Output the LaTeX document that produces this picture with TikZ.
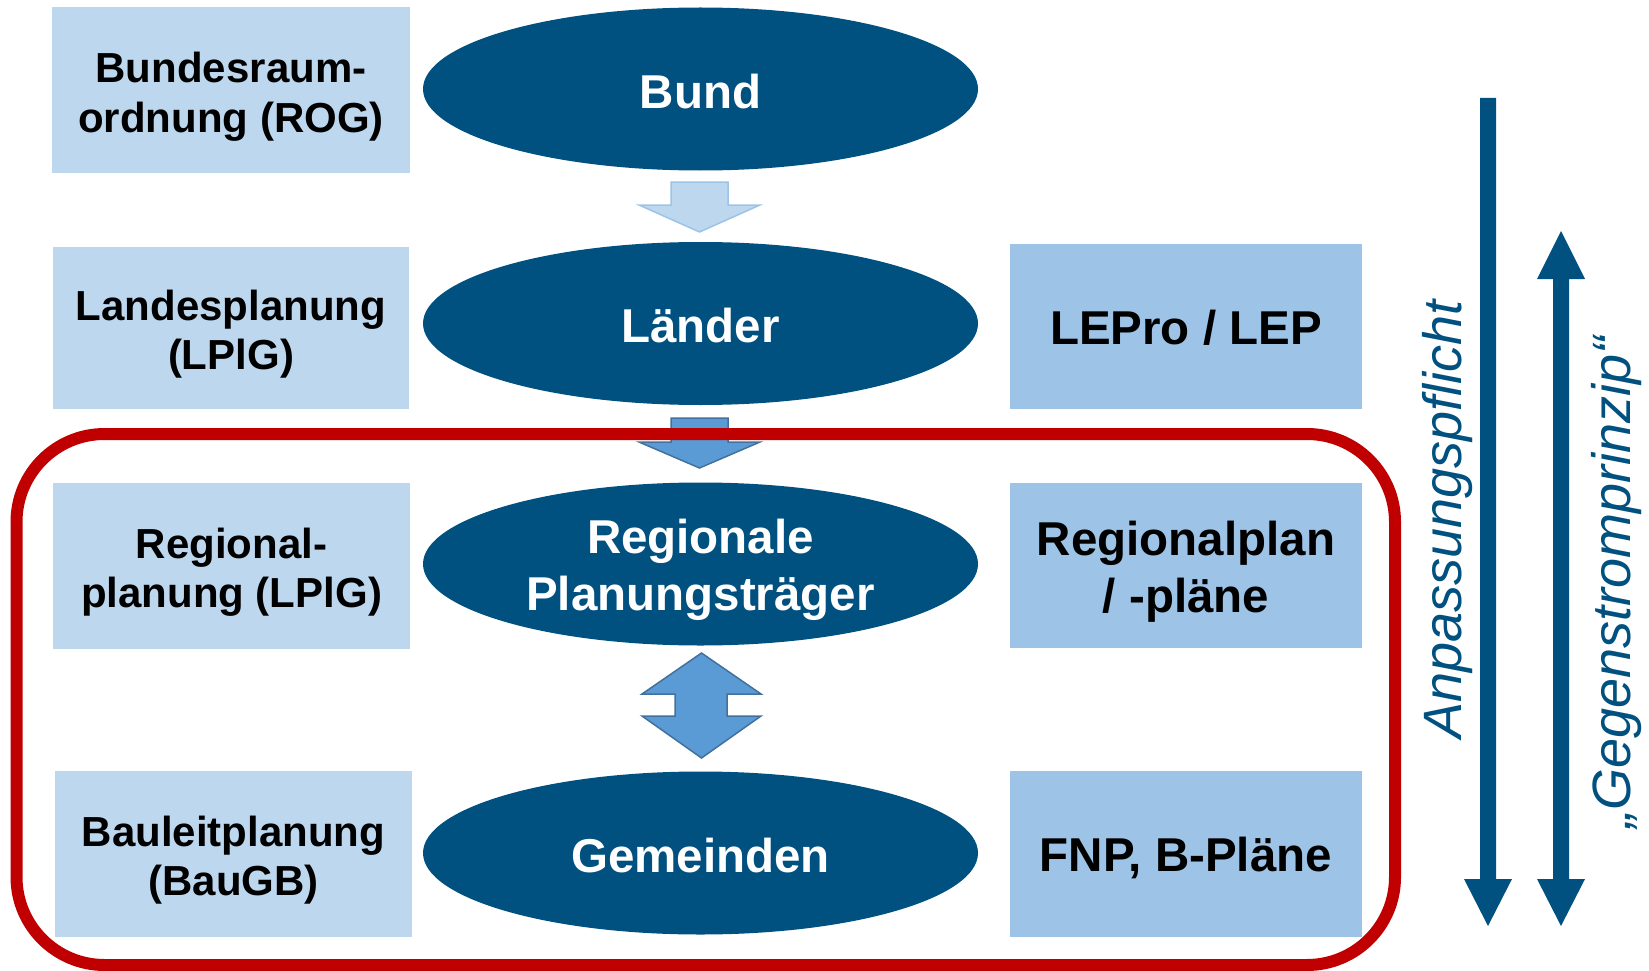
\documentclass[tikz,border=0pt]{standalone}
\usepackage{fontspec}
\setmainfont{Liberation Sans}
\usetikzlibrary{shapes.geometric}
\definecolor{dblue}{RGB}{0,80,128}
\definecolor{lboxc}{HTML}{BDD7EE}
\definecolor{rboxc}{HTML}{9DC3E6}
\definecolor{mblue}{HTML}{5B9BD5}
\definecolor{mborder}{HTML}{41719C}
\definecolor{dred}{HTML}{C00000}
\newcommand\downblock[5]{% style, cx, top, headbase, tip
  \draw[#1] (#2-28.5,#3) -- (#2+28.5,#3) -- (#2+28.5,#4) -- (#2+60.5,#4) -- (#2,#5)
    -- (#2-60.5,#4) -- (#2-28.5,#4) -- cycle;}
\begin{document}
\begin{tikzpicture}[x=1pt,y=-1pt,
  leftbox/.style={rectangle, fill=lboxc, inner sep=0pt, outer sep=0pt,
    minimum width=358pt, minimum height=166pt},
  rightbox/.style={rectangle, fill=rboxc, inner sep=0pt, outer sep=0pt,
    minimum width=352pt, minimum height=166pt},
  ell/.style={ellipse, fill=dblue, inner sep=0pt, outer sep=0pt,
    minimum width=555pt, minimum height=163pt},
  lefttext/.style={inner sep=0pt, align=center,
    font=\fontsize{42}{49.5}\selectfont\bfseries},
  bigtext/.style={inner sep=0pt, align=center,
    font=\fontsize{47.5}{57}\selectfont\bfseries},
  elltext/.style={bigtext, text=white},
  sidetext/.style={rotate=90, anchor=base, text=dblue, inner sep=0pt,
    font=\fontsize{54}{60}\selectfont\itshape},
  lightarrow/.style={fill=lboxc, draw=rboxc, line width=1.5pt, line join=miter},
  midarrow/.style={fill=mblue, draw=mborder, line width=1.5pt, line join=miter},
  redframe/.style={draw=dred, line width=12pt, rounded corners=88pt}
]
\useasboundingbox (0,0) rectangle (1649,971);

% left boxes
\node[leftbox] (rog) at (231,90) {};
\node[leftbox, minimum width=356pt, minimum height=162pt] (lplg) at (231,328) {};
\node[leftbox, minimum width=357pt] (rplg) at (231.5,566) {};
\node[leftbox, minimum width=357pt] (baugb) at (233.5,854) {};
\node[lefttext] (rog-t) at ([yshift=-6.5pt]rog.center) {Bundesraum-\\ordnung (ROG)};
\node[lefttext] (lplg-t) at ([yshift=-6pt]lplg.center) {Landesplanung\\(LPlG)};
\node[lefttext] (rplg-t) at ([yshift=-6pt]rplg.center) {Regional-\\planung (LPlG)};
\node[lefttext] (baugb-t) at ([yshift=-6pt]baugb.center) {Bauleitplanung\\(BauGB)};

% ellipses
\node[ell] (bund) at (700.5,89) {};
\node[ell] (laender) at (700.5,323.5) {};
\node[ell] (rpt) at (700.5,564) {};
\node[ell] (gem) at (700.5,853) {};
\node[elltext] (bund-t) at ([yshift=-2.5pt]bund.center) {Bund};
\node[elltext] (laender-t) at ([yshift=-2.5pt]laender.center) {Länder};
\node[elltext] (rpt-t) at ([yshift=-5.5pt]rpt.center) {Regionale\\Planungsträger};
\node[elltext] (gem-t) at ([yshift=-2.5pt]gem.center) {Gemeinden};

% right boxes
\node[rightbox, minimum height=165pt] (lep) at (1186,326.5) {};
\node[rightbox, minimum height=165pt] (rp) at (1186,565.5) {};
\node[rightbox] (fnp) at (1186,854) {};
\node[bigtext] (lep-t) at ([yshift=-1.5pt]lep.center) {LEPro / LEP};
\node[bigtext] (rp-t) at ([yshift=-6pt]rp.center) {Regionalplan\\/ -pläne};
\node[bigtext] (fnp-t) at ([yshift=-3.5pt]fnp.center) {FNP, B-Pläne};

% block arrows between ellipses
\downblock{lightarrow}{699.5}{182}{205}{232}
\downblock{midarrow}{699.5}{418}{442}{468}
\draw[midarrow] (701.5,653) -- (761,694) -- (727,694) -- (727,716) -- (761,716) -- (701.5,758)
  -- (642,716) -- (675,716) -- (675,694) -- (642,694) -- cycle;

% red frame
\draw[redframe] (16.5,434) rectangle (1395,965);

% side arrows
\fill[dblue] (1480,98) -- (1496,98) -- (1496,879) -- (1512,879) -- (1488,926) -- (1464,879)
  -- (1480,879) -- cycle;
\fill[dblue] (1561,231) -- (1585,279) -- (1569,279) -- (1569,879) -- (1585,879) -- (1561,926)
  -- (1537,879) -- (1553,879) -- (1553,279) -- (1537,279) -- cycle;

% side labels
\node[sidetext] (anp) at (1461,519.5) {Anpassungspflicht};
\node[sidetext] (gsp) at (1630,582.5) {„Gegenstromprinzip“};
\end{tikzpicture}
\end{document}
